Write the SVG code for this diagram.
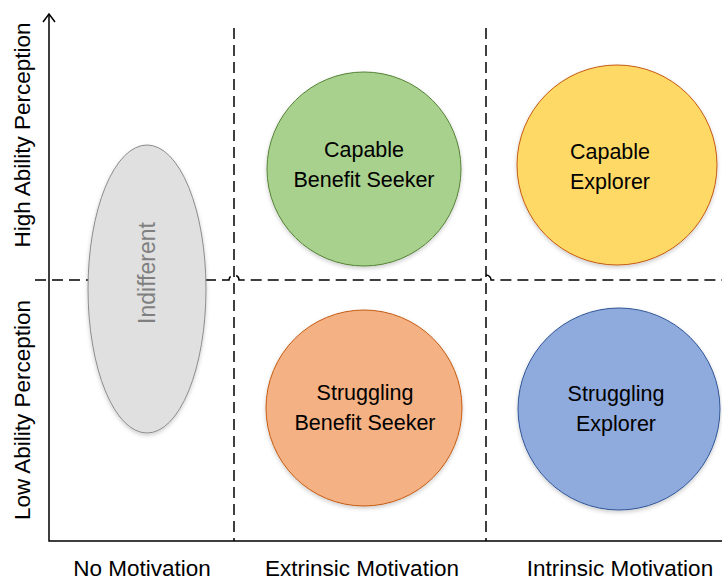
<svg xmlns="http://www.w3.org/2000/svg" width="722" height="581" viewBox="0 0 722 581">
  <style>
    .lbl { font-family: "Liberation Sans", Arial, sans-serif; font-size: 21.5px; fill: #000; text-anchor: middle; }
    .axis-lbl { font-family: "Liberation Sans", Arial, sans-serif; font-size: 22.5px; fill: #000; text-anchor: middle; }
    .dash { fill: none; stroke: #000; stroke-width: 1.5; stroke-dasharray: 11 6; }
    .axis { fill: none; stroke: #000; stroke-width: 1.5; }
  </style>
  <defs>
    <filter id="soft" x="-20%" y="-20%" width="140%" height="150%">
      <feGaussianBlur in="SourceAlpha" stdDeviation="2"/>
      <feOffset dy="2"/>
      <feComponentTransfer><feFuncA type="linear" slope="0.2"/></feComponentTransfer>
      <feMerge><feMergeNode/><feMergeNode in="SourceGraphic"/></feMerge>
    </filter>
  </defs>
  <rect width="722" height="581" fill="#fff"/>

  <!-- quadrant grid and axes -->
  <g id="connectors">
    <path class="dash" d="M 234 28 V 541"/>
    <path class="dash" d="M 486 28 V 541"/>
    <path class="dash" d="M 35 280 H 229 A 5 5 0 0 1 239 280 H 481 A 5 5 0 0 1 491 280 H 722"/>
    <path class="axis" d="M 49 15 V 541 H 722"/>
    <path class="axis" d="M 43 22 L 49 14 L 55 22"/>
  </g>

  <g id="indifferent">
    <ellipse cx="147" cy="289" rx="59" ry="144" fill="#E0E0E0" stroke="#8C8C8C" stroke-width="1" filter="url(#soft)"/>
    <text class="lbl" transform="translate(155 273) rotate(-90)" style="fill:#7F7F7F;font-size:23px">Indifferent</text>
  </g>

  <g id="capable-benefit-seeker">
    <circle cx="364" cy="169" r="97" fill="#A9D18E" stroke="#548235" stroke-width="1" filter="url(#soft)"/>
    <text class="lbl" x="364" y="157">Capable</text>
    <text class="lbl" x="364" y="187">Benefit Seeker</text>
  </g>

  <g id="capable-explorer">
    <circle cx="617" cy="165" r="100" fill="#FFD966" stroke="#C55A11" stroke-width="1" filter="url(#soft)"/>
    <text class="lbl" x="610" y="159">Capable</text>
    <text class="lbl" x="610" y="189">Explorer</text>
  </g>

  <g id="struggling-benefit-seeker">
    <circle cx="364" cy="408" r="98" fill="#F4B183" stroke="#C55A11" stroke-width="1" filter="url(#soft)"/>
    <text class="lbl" x="365" y="400">Struggling</text>
    <text class="lbl" x="365" y="430">Benefit Seeker</text>
  </g>

  <g id="struggling-explorer">
    <circle cx="619" cy="409" r="101" fill="#8FAADC" stroke="#2F5597" stroke-width="1" filter="url(#soft)"/>
    <text class="lbl" x="616" y="401">Struggling</text>
    <text class="lbl" x="616" y="431">Explorer</text>
  </g>

  <g id="axis-labels">
    <text class="axis-lbl" transform="translate(30 135) rotate(-90)">High Ability Perception</text>
    <text class="axis-lbl" transform="translate(30 410) rotate(-90)">Low Ability Perception</text>
    <text class="axis-lbl" x="142" y="576">No Motivation</text>
    <text class="axis-lbl" x="362" y="576">Extrinsic Motivation</text>
    <text class="axis-lbl" x="620" y="576">Intrinsic Motivation</text>
  </g>
</svg>
